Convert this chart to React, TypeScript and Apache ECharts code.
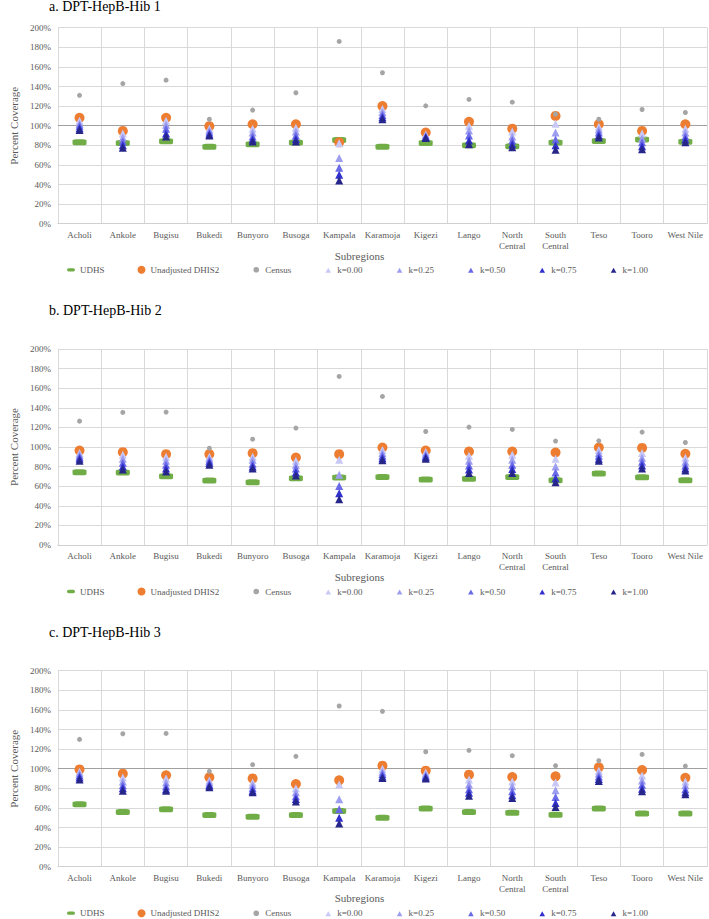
import React, { useEffect, useRef } from "react";
import * as echarts from "echarts";

const categories = [
  "Acholi", "Ankole", "Bugisu", "Bukedi", "Bunyoro", "Busoga", "Kampala", "Karamoja",
  "Kigezi", "Lango", "North Central", "South Central", "Teso", "Tooro", "West Nile",
];
const panelTitles = ["a. DPT-HepB-Hib 1", "b. DPT-HepB-Hib 2", "c. DPT-HepB-Hib 3"];
const yTicks = [0, 20, 40, 60, 80, 100, 120, 140, 160, 180, 200];
const seriesNames = ["UDHS", "Unadjusted DHIS2", "Census", "k=0.00", "k=0.25", "k=0.50", "k=0.75", "k=1.00"];

// Panel a. DPT-HepB-Hib 1
const udhsA = [83.1, 82.4, 84.2, 78.4, 81.1, 82.8, 85.5, 78.4, 82.4, 80.0, 79.0, 82.8, 84.5, 85.9, 83.5];
const dhis2A = [108, 94.7, 108, 99.5, 101.5, 101.5, 83, 120, 93, 104, 97, 110, 101.5, 94.7, 101.5];
const censusA = [131, 143, 146.5, 106.6, 115.9, 133.6, 186, 154, 120.3, 126.8, 124, 111.8, 106.6, 116.5, 113.5];
const k000A = [105, 92, 105, 97, 97, 98, 82, 117, 91, 100, 94, 102, 99, 92, 97];
const k025A = [102, 88, 101, 95, 93, 94, 67, 114, 90, 95, 89, 93, 96, 87, 93];
const k050A = [100, 84, 97, 93, 89, 90, 57, 111, 89, 90, 85, 86, 93, 83, 89];
const k075A = [97.5, 80, 92, 91, 86, 86.5, 50, 108.5, 88, 85, 81, 80, 90, 79, 86];
const k100A = [95.5, 77.5, 89, 90, 84, 84, 44, 106.5, 87.5, 81, 78, 75.5, 88, 76, 83];

// Panel b. DPT-HepB-Hib 2
const udhsB = [74.3, 73.9, 70.2, 65.8, 64.1, 68.1, 68.8, 69.5, 66.8, 67.5, 69.5, 66.1, 72.9, 69.2, 66.1];
const dhis2B = [96.4, 94.7, 92.7, 92.7, 93.7, 89.3, 92.7, 99.5, 96.4, 95.4, 95.4, 94.4, 99.5, 99.1, 93.0];
const censusB = [126.4, 135.3, 135.6, 98.8, 108, 119.3, 172, 151.6, 115.8, 120.3, 117.9, 106, 106.3, 115.2, 104.6];
const k000B = [94, 92, 90, 90, 90, 86, 87, 97, 95, 91, 92, 88, 97, 94, 89];
const k025B = [92, 88, 86, 88, 87, 82, 71.6, 94, 93, 86, 87, 80, 94, 89, 85];
const k050B = [90, 84, 82, 86, 83, 78, 60.3, 91, 91, 81, 82, 74, 91, 85, 81];
const k075B = [88, 80, 78, 84, 80, 74, 52.8, 88.5, 89.5, 77, 77.5, 68, 88, 81, 78];
const k100B = [86, 77, 75, 82, 78, 71, 46.7, 86.5, 88, 73.5, 73.5, 64, 86, 78, 76];

// Panel c. DPT-HepB-Hib 3
const udhsC = [63.6, 55.8, 58.5, 52.7, 51, 52.7, 56.8, 50, 59.5, 55.8, 55.1, 53.1, 59.5, 54.4, 54.4];
const dhis2C = [99.3, 94.9, 93.2, 91.2, 90.1, 84.4, 88.1, 103.1, 98, 93.9, 91.5, 92.2, 101.4, 98.6, 90.8];
const censusC = [129.9, 135.7, 136, 97.3, 104.1, 112.6, 164, 158.5, 117.3, 118.7, 113.3, 103.1, 108.2, 114.6, 102.7];
const k000C = [97, 91, 90, 88, 86, 80, 84, 100, 96, 89, 87, 86, 98, 93, 87];
const k025C = [95, 87, 86, 86, 83, 76, 68.7, 97, 94, 84, 82, 78, 95, 88, 83];
const k050C = [93, 83, 82, 84, 80, 72, 58.5, 94.5, 92.5, 79, 77, 71, 92, 83.5, 79];
const k075C = [91, 80, 79, 82.5, 77.5, 69, 50, 92, 91, 75.5, 73, 65, 89.5, 79.5, 76];
const k100C = [89, 77.5, 77.5, 81, 76, 66.5, 44.2, 90.5, 90, 72.5, 70, 61, 87.5, 77, 74];

const panels = [
  [udhsA, dhis2A, censusA, k000A, k025A, k050A, k075A, k100A],
  [udhsB, dhis2B, censusB, k000B, k025B, k050B, k075B, k100B],
  [udhsC, dhis2C, censusC, k000C, k025C, k050C, k075C, k100C],
];

const FONT = "Liberation Serif";
const GRAY_TEXT = "#595959";
const colors = ["#70ad47", "#ed7d31", "#a5a5a5", "#c8c8f7", "#9e9ef0", "#6a6ae8", "#3030cc", "#26268a"];
const symbols: any[] = ["roundRect", "circle", "circle", "triangle", "triangle", "triangle", "triangle", "triangle"];
const symbolSizes: any[] = [[14, 6], 10, 5, 8, 8, 8, 8, 8];

const gridTops = [27.7, 349, 670.7];
const gridHeight = 196;
const titleY = [7, 311.7, 633.3];
const subregionY = [256, 576.7, 898.3];
const legendY = [269.3, 591, 912.7];

const triIcon = "path://M0 0M8 8M1.2 7L4 2L6.8 7Z";
const legendIcons = [
  "path://M0 0M8 8M1.5 2.2L6.5 2.2A1.8 1.8 0 0 1 6.5 5.8L1.5 5.8A1.8 1.8 0 0 1 1.5 2.2Z",
  "circle",
  "path://M0 0M8 8M1.2 4A2.8 2.8 0 1 0 6.8 4A2.8 2.8 0 1 0 1.2 4Z",
  triIcon, triIcon, triIcon, triIcon, triIcon,
];

export default function App() {
  const ref = useRef<HTMLDivElement>(null);
  useEffect(() => {
    if (!ref.current) return;
    const chart = echarts.init(ref.current, undefined, { renderer: "svg" });

    const grids = gridTops.map((top) => ({ left: 42, right: 2, top, height: gridHeight }));
    const xAxes = gridTops.map((_, i) => ({
      type: "category",
      gridIndex: i,
      data: categories,
      boundaryGap: true,
      axisLine: { show: true, lineStyle: { color: "#d0d0d0", width: 1 } },
      axisTick: { show: false },
      splitLine: { show: true, lineStyle: { color: "#d9d9d9", width: 1 } },
      axisLabel: {
        interval: 0,
        margin: 6,
        color: GRAY_TEXT,
        fontFamily: FONT,
        fontSize: 9,
        lineHeight: 10.7,
        formatter: (v: string) => (v === "North Central" || v === "South Central" ? v.replace(" ", "\n") : v),
      },
    }));
    const yAxes = gridTops.map((_, i) => ({
      type: "value",
      gridIndex: i,
      min: yTicks[0],
      max: yTicks[yTicks.length - 1],
      interval: 20,
      name: "Percent Coverage",
      nameLocation: "middle",
      nameGap: 31,
      nameTextStyle: { color: GRAY_TEXT, fontFamily: FONT, fontSize: 11 },
      axisLine: { show: false },
      axisTick: { show: false },
      splitLine: { show: true, lineStyle: { color: "#d9d9d9", width: 1 } },
      axisLabel: { margin: 7, color: GRAY_TEXT, fontFamily: FONT, fontSize: 9, formatter: "{value}%" },
    }));

    const series: any[] = [];
    panels.forEach((arrs, p) => {
      arrs.forEach((arr, s) => {
        const item: any = {
          type: "scatter",
          name: seriesNames[s],
          xAxisIndex: p,
          yAxisIndex: p,
          data: arr,
          symbol: symbols[s],
          symbolSize: symbolSizes[s],
          itemStyle: { color: colors[s], opacity: 1 },
          z: 2 + s,
          emphasis: { disabled: true },
        };
        if (s === 1) {
          item.markLine = {
            silent: true,
            symbol: ["none", "none"],
            label: { show: false },
            lineStyle: { color: "#a0a0a0", width: 1.2, type: "solid" },
            data:
              p === 1
                ? [[{ coord: [-Infinity, 100] }, { coord: [categories.length - 1, 100] }]]
                : [{ yAxis: 100 }],
            z: 1,
          };
        }
        series.push(item);
      });
    });

    const legends = legendY.map((y) => ({
      left: 67,
      top: y - 4,
      padding: 0,
      itemWidth: 8,
      itemHeight: 8,
      itemGap: 33,
      textStyle: { color: GRAY_TEXT, fontFamily: FONT, fontSize: 9 },
      data: seriesNames.map((n, i) => ({ name: n, icon: legendIcons[i] })),
      selectedMode: false,
    }));

    const graphics: any[] = [];
    panelTitles.forEach((t, i) => {
      graphics.push({
        type: "text",
        left: 49,
        top: titleY[i] - 8,
        style: { text: t, fill: "#000", font: `14px "${FONT}"` },
      });
      graphics.push({
        type: "text",
        x: 359.5,
        y: subregionY[i],
        style: { text: "Subregions", fill: GRAY_TEXT, font: `11px "${FONT}"`, align: "center", verticalAlign: "middle" },
      });
    });

    chart.setOption({
      animation: false,
      backgroundColor: "#ffffff",
      grid: grids,
      xAxis: xAxes,
      yAxis: yAxes,
      legend: legends,
      series,
      graphic: graphics,
    });
    return () => chart.dispose();
  }, []);
  return <div ref={ref} style={{ position: "absolute", left: 0, top: 0, width: 709, height: 919 }} />;
}
